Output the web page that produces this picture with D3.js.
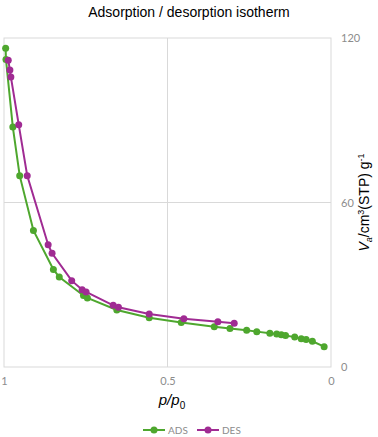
<!DOCTYPE html>
<html>
<head>
<meta charset="utf-8">
<script src="https://cdn.jsdelivr.net/npm/d3@7"></script>
<style>
  body { margin: 0; background: #fff; }
  svg { display: block; }
</style>
</head>
<body>
<div id="chart"></div>
<script>
// adsorption branch (p/p0, volume)
const adsP = [0.995, 0.994, 0.973, 0.952, 0.910, 0.849, 0.831, 0.757, 0.745, 0.655, 0.556, 0.458, 0.357, 0.309, 0.258, 0.227, 0.187, 0.166, 0.152, 0.139, 0.111, 0.091, 0.076, 0.057, 0.021];
const adsV = [116.3, 112.2, 87.5, 69.8, 49.8, 35.6, 32.8, 26.1, 25.2, 20.8, 18.0, 16.2, 14.7, 14.0, 13.4, 12.9, 12.3, 12.0, 11.8, 11.5, 10.9, 10.3, 10.0, 9.4, 7.4];
// desorption branch
const desP = [0.987, 0.982, 0.979, 0.955, 0.929, 0.865, 0.853, 0.793, 0.761, 0.749, 0.666, 0.650, 0.556, 0.450, 0.346, 0.296];
const desV = [111.9, 108.3, 105.8, 88.4, 69.8, 44.6, 41.5, 31.5, 28.2, 27.4, 22.5, 21.8, 19.3, 17.6, 16.5, 16.0];

const xTicks = [1, 0.5, 0];
const yTicks = [0, 60, 120];
const seriesNames = ["ADS", "DES"];
const seriesColors = ["#4ea72e", "#a02b93"];

const width = 378, height = 437;
const margin = {top: 38, right: 47, bottom: 70, left: 4};

const svg = d3.select("#chart").append("svg")
    .attr("width", width)
    .attr("height", height);

const x = d3.scaleLinear().domain([1, 0]).range([margin.left, width - margin.right]);
const y = d3.scaleLinear().domain([0, 120]).range([height - margin.bottom, margin.top]);

// title
svg.append("text")
    .text("Adsorption / desorption isotherm")
    .attr("x", 189).attr("y", 17)
    .attr("text-anchor", "middle")
    .style("font-family", "Liberation Sans, Arial, sans-serif")
    .style("font-size", "14px")
    .attr("fill", "#000");

// gridlines
svg.append("g").selectAll("line.gx").data([0.5]).join("line")
    .attr("x1", d => x(d)).attr("x2", d => x(d))
    .attr("y1", y(0)).attr("y2", y(120))
    .attr("stroke", "#d9d9d9").attr("stroke-width", 1);
svg.append("g").selectAll("line.gy").data([60]).join("line")
    .attr("x1", x(1)).attr("x2", x(0))
    .attr("y1", d => y(d)).attr("y2", d => y(d))
    .attr("stroke", "#d9d9d9").attr("stroke-width", 1);

// plot border
svg.append("rect")
    .attr("x", x(1)).attr("y", y(120))
    .attr("width", x(0) - x(1)).attr("height", y(0) - y(120))
    .attr("fill", "none").attr("stroke", "#d9d9d9").attr("stroke-width", 1);

// x axis labels
const xAxis = d3.axisBottom(x).tickValues(xTicks).tickSize(0).tickPadding(10).tickFormat(d3.format("~g"));
const gx = svg.append("g").attr("transform", `translate(0,${y(0)})`).call(xAxis);
gx.select(".domain").remove();
gx.selectAll("text").attr("fill", "#8c8c8c")
    .style("font-family", "Lato, Open Sans, sans-serif").style("font-size", "11px");

// y axis labels (right)
const yAxis = d3.axisRight(y).tickValues(yTicks).tickSize(0).tickPadding(10);
const gy = svg.append("g").attr("transform", `translate(${x(0)},0)`).call(yAxis);
gy.select(".domain").remove();
gy.selectAll("text").attr("fill", "#8c8c8c")
    .style("font-family", "Lato, Open Sans, sans-serif").style("font-size", "11px");

// axis titles
const xt = svg.append("text")
    .attr("x", 172).attr("y", 405)
    .attr("text-anchor", "middle")
    .style("font-family", "Liberation Sans, Arial, sans-serif")
    .style("font-size", "15px")
    .style("font-style", "italic");
xt.append("tspan").text("p/p");
xt.append("tspan").text("0").attr("dy", 4).style("font-size", "10px").style("font-style", "normal");

const yt = svg.append("text")
    .attr("transform", `translate(369,${y(60)}) rotate(-90)`)
    .attr("text-anchor", "middle")
    .style("font-family", "Liberation Sans, Arial, sans-serif")
    .style("font-size", "14px");
yt.append("tspan").text("V").style("font-style", "italic");
yt.append("tspan").text("a").attr("dy", 3).style("font-size", "9px").style("font-style", "italic");
yt.append("tspan").text("/cm").attr("dy", -3);
yt.append("tspan").text("3").attr("dy", -5).style("font-size", "9px");
yt.append("tspan").text("(STP) g").attr("dy", 5);
yt.append("tspan").text("-1").attr("dy", -5).style("font-size", "9px");

// series
const series = [
    {name: seriesNames[0], color: seriesColors[0], pts: adsP.map((p, i) => [p, adsV[i]])},
    {name: seriesNames[1], color: seriesColors[1], pts: desP.map((p, i) => [p, desV[i]])}
];

const line = d3.line().x(d => x(d[0])).y(d => y(d[1]));

series.forEach(s => {
    svg.append("path")
        .attr("d", line(s.pts))
        .attr("fill", "none")
        .attr("stroke", s.color)
        .attr("stroke-width", 2);
    svg.append("g").selectAll("circle").data(s.pts).join("circle")
        .attr("cx", d => x(d[0])).attr("cy", d => y(d[1]))
        .attr("r", 3.5)
        .attr("fill", s.color);
});

// legend
const legend = svg.append("g");
const legX = [143, 197];
series.forEach((s, i) => {
    const g = legend.append("g").attr("transform", `translate(${legX[i]},430)`);
    g.append("line").attr("x1", 0).attr("x2", 22).attr("y1", 0).attr("y2", 0)
        .attr("stroke", s.color).attr("stroke-width", 2);
    g.append("circle").attr("cx", 11).attr("cy", 0).attr("r", 3.5).attr("fill", s.color);
    g.append("text").text(s.name).attr("x", 25).attr("y", 4)
        .attr("fill", "#8c8c8c")
        .style("font-family", "Lato, Open Sans, sans-serif").style("font-size", "10px");
});
</script>
</body>
</html>
